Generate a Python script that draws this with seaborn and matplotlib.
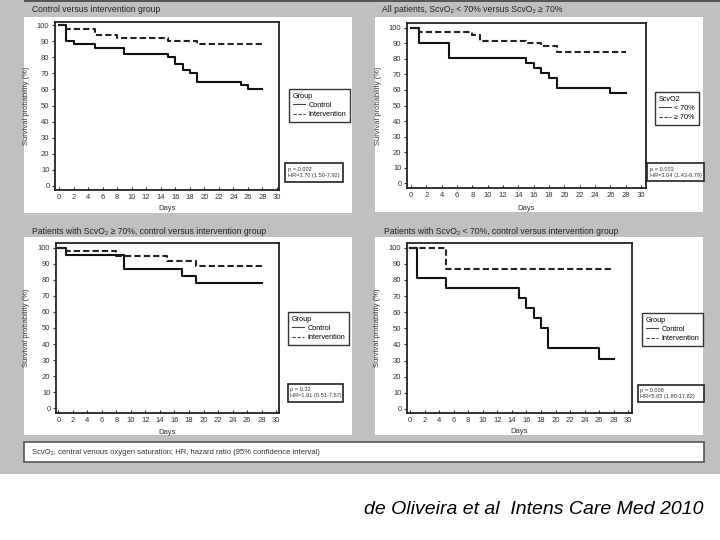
import matplotlib
matplotlib.use("Agg")
import matplotlib.pyplot as plt
from matplotlib.patches import Rectangle
import seaborn as sns
import pandas as pd

# ---------------- data ----------------
# Panel 1: control vs intervention (all patients)
p1_ctrl_days = [0, 1, 2, 5, 9, 15, 16, 17, 18, 19, 25, 26, 28]
p1_ctrl_surv = [100, 90, 88, 86, 82, 80, 76, 72, 70.5, 64.5, 62.5, 60.5, 60.5]
p1_int_days = [0, 1, 5, 8, 15, 19, 28]
p1_int_surv = [100, 97.5, 94, 92, 90, 88, 88]

# Panel 2: ScvO2 < 70% vs >= 70%
p2_low_days = [0, 1, 5, 15, 16, 17, 18, 19, 26, 28]
p2_low_surv = [100, 90.4, 80.7, 77.4, 74.2, 71, 67.7, 61.3, 58, 58]
p2_high_days = [0, 1, 8, 9, 15, 17, 19, 28]
p2_high_surv = [100, 97, 95.3, 91.6, 89.9, 88.2, 84.6, 84.6]

# Panel 3: ScvO2 >= 70%, control vs intervention
p3_ctrl_days = [0, 1, 9, 17, 19, 28]
p3_ctrl_surv = [100, 95.7, 87, 82.6, 78.3, 78.3]
p3_int_days = [0, 1, 8, 15, 19, 28]
p3_int_surv = [100, 97.9, 94.8, 91.9, 88.6, 88.6]

# Panel 4: ScvO2 < 70%, control vs intervention
p4_ctrl_days = [0, 1, 5, 15, 16, 17, 18, 19, 26, 28]
p4_ctrl_surv = [100, 81.25, 75, 68.75, 62.5, 56.25, 50, 37.5, 31.25, 31.25]
p4_int_days = [0, 5, 28]
p4_int_surv = [100, 86.7, 86.7]

titles = [
    "Control versus intervention group",
    "All patients, ScvO\u2082 < 70% versus ScvO\u2082 \u2265 70%",
    "Patients with ScvO\u2082 \u2265 70%, control versus intervention group",
    "Patients with ScvO\u2082 < 70%, control versus intervention group",
]
legend_titles = ["Group", "ScvO2", "Group", "Group"]
group_labels = [["Control", "Intervention"], ["< 70%", "\u2265 70%"],
                ["Control", "Intervention"], ["Control", "Intervention"]]
stats = [
    "p = 0.002\nHR=3.70 (1.50-7.92)",
    "p = 0.003\nHR=3.04 (1.43-6.79)",
    "p = 0.32\nHR=1.91 (0.51-7.57)",
    "p = 0.008\nHR=5.65 (1.80-17.82)",
]
x_ticks = list(range(0, 31, 2))
y_ticks = list(range(0, 101, 10))
footnote = "ScvO\u2082, central venous oxygen saturation; HR, hazard ratio (95% confidence interval)"
citation = "de Oliveira et al  Intens Care Med 2010"

series = [
    ((p1_ctrl_days, p1_ctrl_surv), (p1_int_days, p1_int_surv)),
    ((p2_low_days, p2_low_surv), (p2_high_days, p2_high_surv)),
    ((p3_ctrl_days, p3_ctrl_surv), (p3_int_days, p3_int_surv)),
    ((p4_ctrl_days, p4_ctrl_surv), (p4_int_days, p4_int_surv)),
]

# ---------------- layout (pixels) ----------------
W, H = 720, 540
plt.rcParams['font.family'] = ['Liberation Sans', 'DejaVu Sans']

fig = plt.figure(figsize=(7.2, 5.4), dpi=100)
fig.patch.set_facecolor('white')


def rect_px(x0, y0, x1, y1, **kw):
    r = Rectangle((x0 / W, 1 - y1 / H), (x1 - x0) / W, (y1 - y0) / H,
                  transform=fig.transFigure, **kw)
    fig.add_artist(r)
    return r


GREY = '#c0c0c0'
rect_px(0, 0, 720, 474, facecolor=GREY, edgecolor='none', zorder=-3)
rect_px(24, 0, 720, 2, facecolor='#555555', edgecolor='none', zorder=-2)

panels = [(24, 17, 352, 213), (375, 17, 703, 212), (24, 237, 352, 435), (375, 237, 703, 435)]
for (x0, y0, x1, y1) in panels:
    rect_px(x0, y0, x1, y1, facecolor='white', edgecolor='none', zorder=-2)

title_pos = [(32, 9), (382, 10), (32, 231), (384, 231)]
axes_px = [(55, 22, 279, 190), (407, 23, 646, 188), (56, 243, 279, 413), (407, 243, 632, 413)]
xlims = [(-0.55, 30.28), (-0.52, 30.65), (-0.32, 30.4), (-0.41, 30.51)]
ylims = [(-2.5, 101.9), (-3.0, 103.0), (-2.9, 102.9), (-2.5, 102.9)]
ylabel_x = [30, 382, 30, 381]
xlabel_y = [205, 205, 429, 428]
legend_px = [(289, 89), (655, 92), (288, 312), (642, 313)]
stats_px = [(285, 163, 343, 182), (647, 163, 704, 181), (288, 384, 343, 402), (638, 385, 704, 402)]

for i in range(4):
    tx, ty = title_pos[i]
    fig.text(tx / W, 1 - ty / H, titles[i], fontsize=6.2, color='#222222', va='center', ha='left')

    x0, y0, x1, y1 = axes_px[i]
    ax = fig.add_axes([x0 / W, 1 - y1 / H, (x1 - x0) / W, (y1 - y0) / H])
    ax.set_facecolor('white')

    (d1, s1), (d2, s2) = series[i]
    labs = group_labels[i]
    df = pd.concat([
        pd.DataFrame({'day': d1, 'surv': s1, 'group': labs[0]}),
        pd.DataFrame({'day': d2, 'surv': s2, 'group': labs[1]}),
    ], ignore_index=True)
    sns.lineplot(data=df, x='day', y='surv', hue='group', style='group',
                 hue_order=labs, style_order=labs,
                 palette={labs[0]: '#111111', labs[1]: '#222222'},
                 dashes={labs[0]: '', labs[1]: (3, 1.5)},
                 drawstyle='steps-post', estimator=None, errorbar=None,
                 linewidth=1.5, legend=False, ax=ax)

    ax.set_xlim(*xlims[i])
    ax.set_ylim(*ylims[i])
    ax.set_xticks(x_ticks)
    ax.set_yticks(y_ticks)
    ax.tick_params(axis='x', direction='in', length=2.5, labelsize=5.5, pad=3,
                   colors='#333333', width=0.8)
    ax.tick_params(axis='y', direction='out', length=2, labelsize=5.5, pad=2,
                   colors='#333333', width=0.8)
    for sp in ax.spines.values():
        sp.set_linewidth(1.3)
        sp.set_color('#222222')

    ax.set_xlabel('Days', fontsize=5.5, color='#333333')
    ax.set_ylabel('Survival probability (%)', fontsize=5.5, color='#333333')
    ax_w = x1 - x0
    ax_h = y1 - y0
    ax.yaxis.set_label_coords((ylabel_x[i] - x0) / ax_w, 0.5)
    ax.xaxis.set_label_coords(0.5, (y1 - xlabel_y[i]) / ax_h)

    lx, ly = legend_px[i]
    handles = ax.get_lines()[:2]
    leg = ax.legend(handles, labs, title=legend_titles[i], loc='upper left',
                    bbox_to_anchor=(lx / W, 1 - ly / H), bbox_transform=fig.transFigure,
                    borderaxespad=0, fontsize=5.2, title_fontsize=5.2, handlelength=1.7,
                    handletextpad=0.5, borderpad=0.5, labelspacing=0.3,
                    fancybox=False, framealpha=1, edgecolor='#333333',
                    alignment='left', shadow=False)
    leg.get_frame().set_linewidth(1.0)
    for h in leg.legend_handles:
        h.set_linewidth(0.8)
        h.set_color('#444444')

    sx0, sy0, sx1, sy1 = stats_px[i]
    rect_px(sx0, sy0, sx1, sy1, facecolor='white', edgecolor='#222222', linewidth=1.2, zorder=5)
    fig.text((sx0 + 2.5) / W, 1 - ((sy0 + sy1) / 2) / H, stats[i], fontsize=4.1,
             color='#333333', va='center', ha='left', linespacing=1.25, zorder=6)

# footer box
rect_px(24, 442, 704, 462, facecolor='white', edgecolor='#555555', linewidth=1.2, zorder=1)
fig.text(32 / W, 1 - 452 / H, footnote, fontsize=5.5, color='#333333', va='center', ha='left', zorder=2)

fig.text(703 / W, 1 - 510 / H, citation, fontsize=14, style='italic', color='black',
         va='center', ha='right')

fig.savefig('out.png', dpi=100)
